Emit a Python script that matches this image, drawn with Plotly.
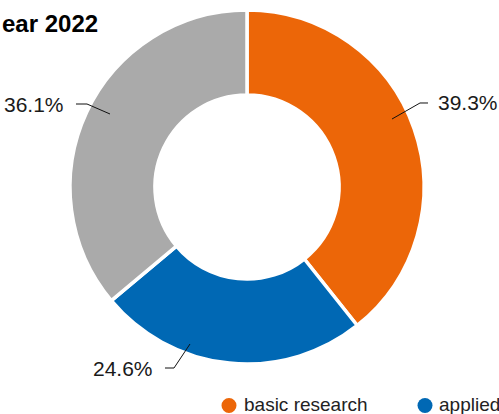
import plotly.graph_objects as go

# ---- data ----
categories = ["basic research", "applied research", "experimental development"]
shares = [39.3, 24.6, 36.1]
colors = ["#ec6608", "#0068b4", "#aaaaaa"]
title_text = "ear 2022"
legend_labels = ["basic research", "applied"]

W, H = 499, 414
FONT = "Liberation Sans"

def X(px):
    return px / W

def Y(py):
    return 1 - py / H

# pie geometry (pixels)
cx, cy, R = 247, 187, 177

fig = go.Figure()
fig.add_trace(go.Pie(
    labels=categories,
    values=shares,
    sort=False,
    direction="clockwise",
    rotation=0,
    hole=0.52,
    marker=dict(colors=colors, line=dict(color="white", width=3.5)),
    textinfo="none",
    hoverinfo="label+percent",
    showlegend=False,
    domain=dict(x=[X(cx - R), X(cx + R)], y=[Y(cy + R), Y(cy - R)]),
))

# data label layout (pixel positions of connector points and label anchors)
label_layout = [
    ([(392, 119), (420, 103), (428, 103)], 436, 102.5, "left"),
    ([(190, 344), (174, 368), (165, 368)], 155, 368.5, "right"),
    ([(110, 114), (87, 104), (76, 104)], 66, 104.5, "right"),
]

annotations = []
shapes = []
for val, (pts, tx, ty, xa) in zip(shares, label_layout):
    path = "M " + " L ".join(f"{X(px):.5f} {Y(py):.5f}" for px, py in pts)
    shapes.append(dict(type="path", path=path, xref="paper", yref="paper",
                       line=dict(color="#111111", width=1)))
    annotations.append(dict(text=f"{val:.1f}%", x=X(tx), y=Y(ty), xref="paper", yref="paper",
                            xanchor=xa, yanchor="middle", showarrow=False,
                            font=dict(family=FONT, size=21, color="#1a1a1a")))

# title (cropped in the reference)
annotations.append(dict(text=f"<b>{title_text}</b>", x=X(0), y=Y(23.5), xref="paper", yref="paper",
                        xanchor="left", yanchor="middle", showarrow=False,
                        font=dict(family=FONT, size=24, color="#000000")))

# legend (manual)
legend_pos = [(229, 242), (425, 437)]
for lbl, col, (ccx, tx) in zip(legend_labels, colors, legend_pos):
    r = 7.5
    shapes.append(dict(type="circle", xref="paper", yref="paper",
                       x0=X(ccx - r), x1=X(ccx + r), y0=Y(405.5 + r), y1=Y(405.5 - r),
                       fillcolor=col, line=dict(width=0)))
    annotations.append(dict(text=lbl, x=X(tx), y=Y(404), xref="paper", yref="paper",
                            xanchor="left", yanchor="middle", showarrow=False,
                            font=dict(family=FONT, size=19, color="#222222")))

fig.update_layout(
    width=W, height=H,
    margin=dict(l=0, r=0, t=0, b=0),
    paper_bgcolor="white",
    plot_bgcolor="white",
    annotations=annotations,
    shapes=shapes,
)

fig.write_html("out.html", config={"displayModeBar": False},
               post_script="document.body.style.margin='0';")
